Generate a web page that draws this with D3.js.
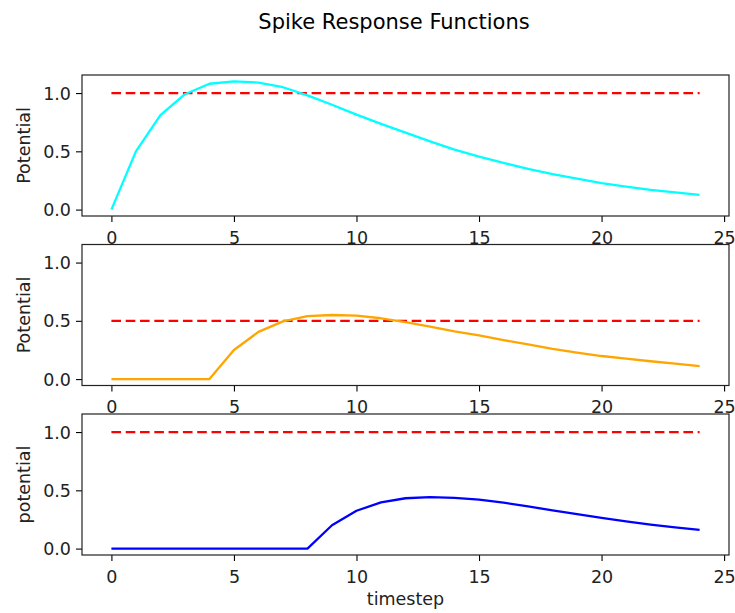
<!DOCTYPE html>
<html lang="en">
<head>
    <meta charset="UTF-8">
    <title>Spike Response Functions</title>
    <script src="https://d3js.org/d3.v7.min.js"></script>
    <style>
        body { margin: 0; background: #fff; }
        svg text { font-family: "DejaVu Sans", sans-serif; fill: #000; }
    </style>
</head>
<body>
    <svg id="chart" width="735" height="613"></svg>

    <script>
        // Datos
        const timesteps = d3.range(0, 25);
        const responseA = [0, 0.50, 0.81, 0.99, 1.08, 1.10, 1.09, 1.05, 0.98, 0.90,
                           0.815, 0.735, 0.66, 0.585, 0.515, 0.455, 0.40, 0.35, 0.305, 0.265,
                           0.228, 0.198, 0.17, 0.147, 0.126];
        const responseB = [0, 0, 0, 0, 0, 0.25, 0.405, 0.495, 0.54, 0.55,
                           0.545, 0.522, 0.488, 0.45, 0.41, 0.375, 0.335, 0.297, 0.26, 0.228,
                           0.198, 0.175, 0.153, 0.132, 0.112];
        const responseC = [0, 0, 0, 0, 0, 0, 0, 0, 0, 0.20,
                           0.325, 0.396, 0.432, 0.442, 0.436, 0.42, 0.394, 0.362, 0.328, 0.295,
                           0.264, 0.234, 0.206, 0.182, 0.16];
        const thresholds = [1.0, 0.5, 1.0];
        const colors = ["#00ffff", "#ffa500", "#0000ff"];
        const yLabels = ["Potential", "Potential", "potential"];
        const xTicks = [0, 5, 10, 15, 20, 25];
        const yTicks = [0.0, 0.5, 1.0];

        const series = [responseA, responseB, responseC];

        const svg = d3.select("#chart");
        const left = 82, right = 729;
        const tops = [75, 244.5, 414];
        const h = 141;

        // Escalas
        const x = d3.scaleLinear().domain([-1.2, 25.2]).range([left, right]);

        svg.append("text")
           .attr("x", 394)
           .attr("y", 29)
           .attr("text-anchor", "middle")
           .attr("font-size", "21px")
           .text("Spike Response Functions");

        series.forEach((vals, i) => {
            const top = tops[i];
            const y = d3.scaleLinear().domain([-0.055, 1.155]).range([top + h, top]);
            const g = svg.append("g");

            // Ejes
            const xa = g.append("g")
               .attr("transform", `translate(0,${top + h})`)
               .call(d3.axisBottom(x).tickValues(xTicks).tickSize(6).tickSizeOuter(0).tickFormat(d3.format("d")));
            xa.select(".domain").remove();
            xa.selectAll("line").attr("stroke", "#000").attr("stroke-width", 1.1);
            xa.selectAll("text").attr("y", 27.5).attr("dy", 0).attr("font-size", "17.5px").style("fill", "#222");

            const ya = g.append("g")
               .attr("transform", `translate(${left},0)`)
               .call(d3.axisLeft(y).tickValues(yTicks).tickSize(6).tickSizeOuter(0).tickFormat(d3.format(".1f")));
            ya.select(".domain").remove();
            ya.selectAll("line").attr("stroke", "#000").attr("stroke-width", 1.1);
            ya.selectAll("text").attr("x", -11).attr("dy", "0.35em").attr("font-size", "17.5px").style("fill", "#222");

            // Umbral
            g.append("path")
             .datum(timesteps)
             .attr("fill", "none")
             .attr("stroke", "#ff0000")
             .attr("stroke-width", 2.3)
             .attr("stroke-dasharray", "9.6,4.7")
             .attr("d", d3.line().x(d => x(d)).y(() => y(thresholds[i])));

            // Línea
            g.append("path")
             .datum(vals)
             .attr("fill", "none")
             .attr("stroke", colors[i])
             .attr("stroke-width", 2.3)
             .attr("stroke-linejoin", "round")
             .attr("d", d3.line().x((d, j) => x(timesteps[j])).y(d => y(d)));

            // Marco
            g.append("rect")
             .attr("x", left)
             .attr("y", top)
             .attr("width", right - left)
             .attr("height", h)
             .attr("fill", "none")
             .attr("stroke", "#222")
             .attr("stroke-width", 1.2);

            g.append("text")
             .attr("transform", `translate(30,${top + h / 2}) rotate(-90)`)
             .attr("text-anchor", "middle")
             .attr("font-size", "17.5px")
             .style("fill", "#222")
             .text(yLabels[i]);
        });

        svg.append("text")
           .attr("x", (left + right) / 2)
           .attr("y", 605)
           .attr("text-anchor", "middle")
           .attr("font-size", "17.5px")
           .style("fill", "#222")
           .text("timestep");
    </script>
</body>
</html>
